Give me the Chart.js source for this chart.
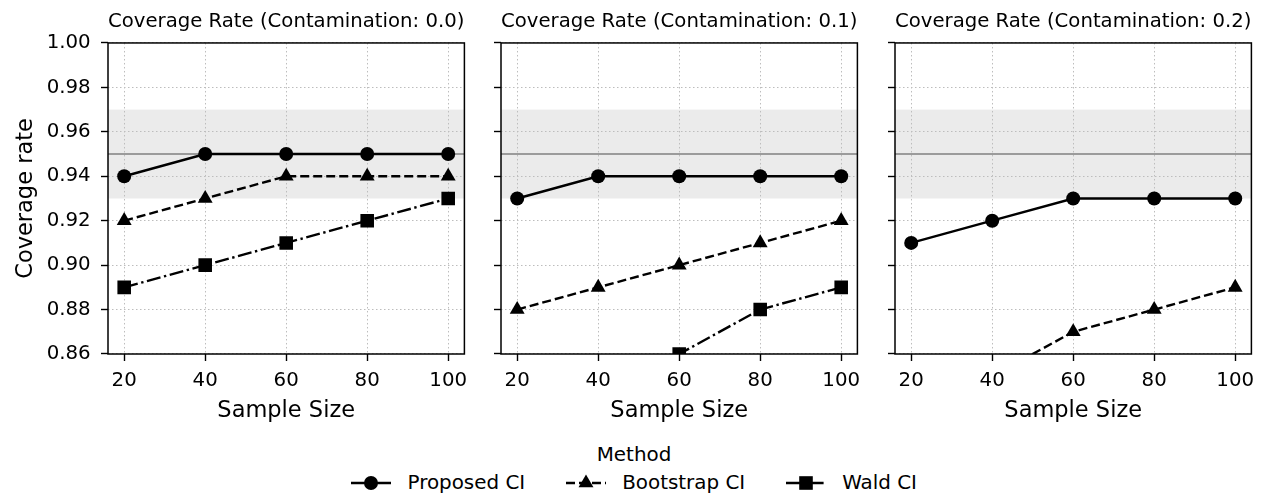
<!DOCTYPE html>
<html>
<head>
<meta charset="utf-8">
<script src="https://cdn.jsdelivr.net/npm/chart.js@4.4.1/dist/chart.umd.min.js"></script>
<style>
  html, body { margin: 0; padding: 0; background: #fff; }
  body { width: 1265px; height: 496px; overflow: hidden; position: relative; font-family: "DejaVu Sans", sans-serif; color: #000; }
  canvas { position: absolute; top: 0; }
  #legendTitle { position: absolute; left: 0; width: 1268px; top: 443px; text-align: center; font-size: 19.9px; line-height: 24px; }
  #legendItems { position: absolute; left: 0; width: 1268px; top: 471px; display: flex; justify-content: center; align-items: center; font-size: 19.9px; line-height: 24px; }
  .item { display: flex; align-items: center; }
  .item + .item { margin-left: 40.5px; }
  .item svg { width: 40px; height: 24px; margin-right: 16.5px; display: block; }
</style>
</head>
<body>
<canvas id="panel0" width="474" height="430" style="left:0px"></canvas>
<canvas id="panel1" width="397" height="430" style="left:470px"></canvas>
<canvas id="panel2" width="397" height="430" style="left:864px"></canvas>
<div id="legendTitle">Method</div>
<div id="legendItems"></div>
<script>
// ---------------- data ----------------
const sampleSizes = [20, 40, 60, 80, 100];
const contaminationLevels = ['0.0', '0.1', '0.2'];
const methodNames = ['Proposed CI', 'Bootstrap CI', 'Wald CI'];

const proposedC00  = [0.94, 0.95, 0.95, 0.95, 0.95];
const bootstrapC00 = [0.92, 0.93, 0.94, 0.94, 0.94];
const waldC00      = [0.89, 0.90, 0.91, 0.92, 0.93];

const proposedC01  = [0.93, 0.94, 0.94, 0.94, 0.94];
const bootstrapC01 = [0.88, 0.89, 0.90, 0.91, 0.92];
const waldC01      = [0.84, 0.85, 0.86, 0.88, 0.89];

const proposedC02  = [0.91, 0.92, 0.93, 0.93, 0.93];
const bootstrapC02 = [0.84, 0.85, 0.87, 0.88, 0.89];
const waldC02      = [0.80, 0.81, 0.82, 0.83, 0.84];

const xTicks = [20, 40, 60, 80, 100];
const yTicks = [0.86, 0.88, 0.90, 0.92, 0.94, 0.96, 0.98, 1.00];
const xRange = [16, 104];
const yRange = [0.86, 1.00];
const toleranceBand = [0.93, 0.97];
const nominalRate = 0.95;

// ---------------- styling ----------------
const FONT = '"DejaVu Sans", sans-serif';
Chart.defaults.font.family = FONT;
Chart.defaults.color = '#000';

const methodStyles = [
  { pointStyle: 'circle',   pointRadius: 7,   borderDash: [] },
  { pointStyle: 'triangle', pointRadius: 8.6, borderDash: [9, 4] },
  { pointStyle: 'rect',     pointRadius: 9.6, borderDash: [14, 3.6, 2.4, 3.6] }
];

const panelSeries = [
  [proposedC00, bootstrapC00, waldC00],
  [proposedC01, bootstrapC01, waldC01],
  [proposedC02, bootstrapC02, waldC02]
];

const panelLayout = [
  { id: 'panel0', yAxisWidth: 108, showY: true },
  { id: 'panel1', yAxisWidth: 31,  showY: false },
  { id: 'panel2', yAxisWidth: 31,  showY: false }
];

const decorPlugin = {
  id: 'decor',
  beforeDraw(chart) {
    const { ctx, chartArea: a, scales: { y } } = chart;
    const yTop = y.getPixelForValue(toleranceBand[1]);
    const yBot = y.getPixelForValue(toleranceBand[0]);
    ctx.save();
    ctx.fillStyle = '#ebebeb';
    ctx.fillRect(a.left, yTop, a.right - a.left, yBot - yTop);
    ctx.restore();
  },
  beforeDatasetsDraw(chart) {
    const { ctx, chartArea: a, scales: { y } } = chart;
    const yy = y.getPixelForValue(nominalRate);
    ctx.save();
    ctx.strokeStyle = '#808080';
    ctx.lineWidth = 1.5;
    ctx.beginPath();
    ctx.moveTo(a.left, yy);
    ctx.lineTo(a.right, yy);
    ctx.stroke();
    ctx.restore();
  },
  afterDatasetsDraw(chart) {
    const { ctx, chartArea: a } = chart;
    ctx.save();
    ctx.strokeStyle = '#000';
    ctx.lineWidth = 1.5;
    ctx.strokeRect(a.left, a.top, a.right - a.left, a.bottom - a.top);
    ctx.restore();
  }
};

function makePanel(idx) {
  const lay = panelLayout[idx];
  const series = panelSeries[idx];
  const datasets = series.map((vals, m) => ({
    label: methodNames[m],
    data: sampleSizes.map((x, i) => ({ x: x, y: vals[i] })),
    borderColor: '#000',
    backgroundColor: '#000',
    pointBackgroundColor: '#000',
    borderWidth: 2.4,
    borderDash: methodStyles[m].borderDash,
    pointStyle: methodStyles[m].pointStyle,
    pointRadius: methodStyles[m].pointRadius,
    pointHoverRadius: methodStyles[m].pointRadius,
    pointBorderWidth: 0,
    tension: 0,
    clip: 0
  }));

  const gridCommon = {
    color: '#bdbdbd',
    lineWidth: 1,
    drawTicks: true,
    tickLength: 7,
    tickColor: '#000',
    tickWidth: 1.4,
    tickBorderDash: []
  };

  new Chart(document.getElementById(lay.id), {
    type: 'line',
    data: { datasets: datasets },
    options: {
      responsive: false,
      animation: false,
      events: [],
      layout: { padding: { left: 0, right: 8, top: 0, bottom: 0 } },
      plugins: {
        legend: { display: false },
        tooltip: { enabled: false },
        title: {
          display: true,
          text: 'Coverage Rate (Contamination: ' + contaminationLevels[idx] + ')',
          fullSize: false,
          color: '#000',
          font: { family: FONT, size: 19.8, weight: 'normal', lineHeight: 1.2 },
          padding: { top: 9.7, bottom: 9.5 }
        }
      },
      scales: {
        x: {
          type: 'linear',
          min: xRange[0],
          max: xRange[1],
          afterBuildTicks: s => { s.ticks = xTicks.map(v => ({ value: v })); },
          afterFit: s => { s.height = 76; s.paddingLeft = 0; s.paddingRight = 0; },
          grid: gridCommon,
          border: { display: false, dash: [1.5, 2.5] },
          ticks: {
            color: '#000',
            font: { family: FONT, size: 19.8, lineHeight: 1.2 },
            padding: 8.4,
            maxRotation: 0,
            autoSkip: false,
            callback: v => String(v)
          },
          title: {
            display: true,
            text: 'Sample Size',
            color: '#000',
            font: { family: FONT, size: 22.5, lineHeight: 1.2 },
            padding: { top: 0, bottom: 5.5 }
          }
        },
        y: {
          type: 'linear',
          min: yRange[0],
          max: yRange[1],
          afterBuildTicks: s => { s.ticks = yTicks.map(v => ({ value: v })); },
          afterFit: s => { s.width = lay.yAxisWidth; s.paddingTop = 0; s.paddingBottom = 0; },
          grid: gridCommon,
          border: { display: false, dash: [1.5, 2.5] },
          ticks: {
            color: '#000',
            font: { family: FONT, size: 19.8, lineHeight: 1.2 },
            padding: 10.3,
            autoSkip: false,
            callback: v => lay.showY ? Number(v).toFixed(2) : ''
          },
          title: {
            display: lay.showY,
            text: 'Coverage rate',
            color: '#000',
            font: { family: FONT, size: 22.5, lineHeight: 1.2 },
            padding: { top: 12.5, bottom: 0 }
          }
        }
      }
    },
    plugins: [decorPlugin]
  });
}

[0, 1, 2].forEach(makePanel);

// ---------------- legend (HTML) ----------------
const legendSvgs = [
  '<svg viewBox="0 0 40 24"><line x1="0" y1="12" x2="40" y2="12" stroke="#000" stroke-width="2.4"/><circle cx="20" cy="12" r="7" fill="#000"/></svg>',
  '<svg viewBox="0 0 40 24"><line x1="0" y1="12" x2="40" y2="12" stroke="#000" stroke-width="2.4" stroke-dasharray="9 4"/><polygon points="20,3.4 27.45,16.3 12.55,16.3" fill="#000"/></svg>',
  '<svg viewBox="0 0 40 24"><line x1="0" y1="12" x2="40" y2="12" stroke="#000" stroke-width="2.4" stroke-dasharray="14 3.6 2.4 3.6"/><rect x="13.2" y="5.2" width="13.6" height="13.6" fill="#000"/></svg>'
];
const legendEl = document.getElementById('legendItems');
methodNames.forEach((name, i) => {
  const item = document.createElement('div');
  item.className = 'item';
  item.innerHTML = legendSvgs[i] + '<span>' + name + '</span>';
  legendEl.appendChild(item);
});
</script>
</body>
</html>
